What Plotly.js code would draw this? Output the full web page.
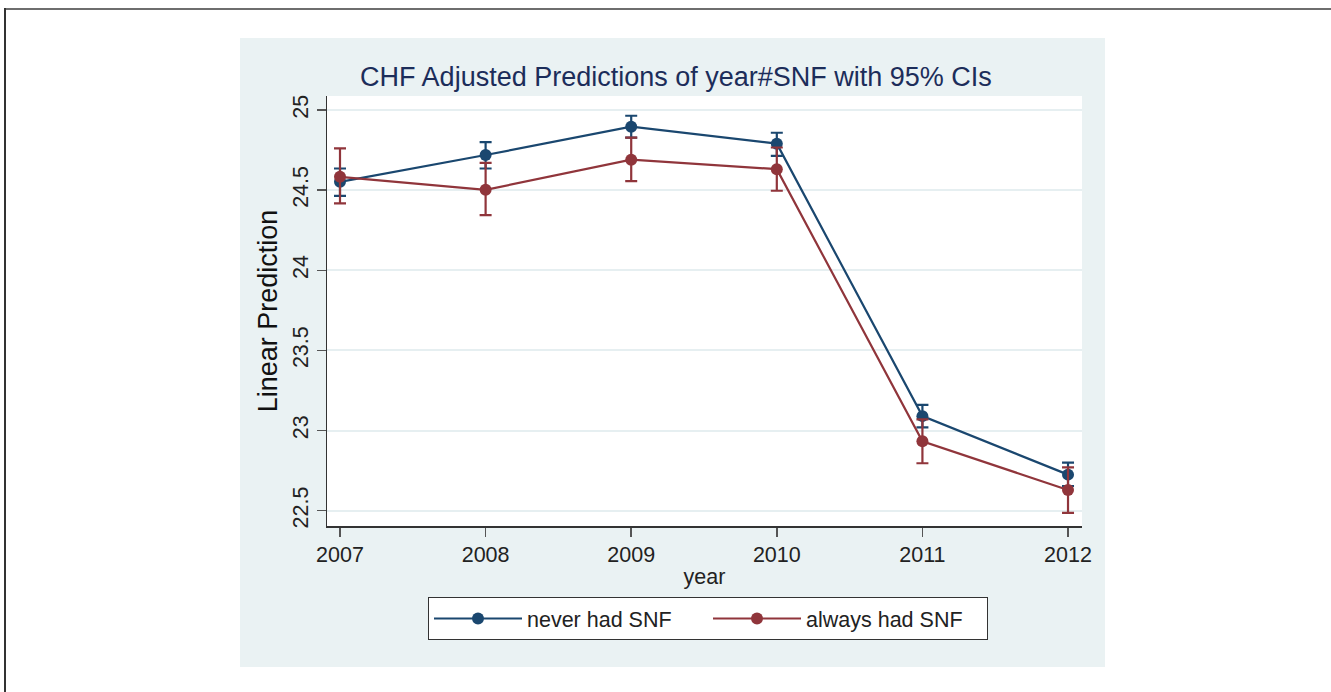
<!DOCTYPE html>
<html>
<head>
<meta charset="utf-8">
<script src="https://cdn.plot.ly/plotly-3.0.1.min.js"></script>
<style>
  html, body { margin: 0; padding: 0; background: #ffffff; }
  #chart { width: 1331px; height: 692px; }
</style>
</head>
<body>
<div id="chart"></div>
<script>
// ---- data ----
const years = [2007, 2008, 2009, 2010, 2011, 2012];
const yearLabels = ['2007', '2008', '2009', '2010', '2011', '2012'];

const neverName = 'never had SNF';
const neverPred = [24.552, 24.719, 24.896, 24.790, 23.090, 22.725];
const neverLow  = [24.464, 24.635, 24.828, 24.714, 23.020, 22.654];
const neverHigh = [24.635, 24.800, 24.964, 24.858, 23.160, 22.800];

const alwaysName = 'always had SNF';
const alwaysPred = [24.583, 24.502, 24.690, 24.631, 22.933, 22.629];
const alwaysLow  = [24.417, 24.344, 24.556, 24.496, 22.796, 22.486];
const alwaysHigh = [24.760, 24.670, 24.827, 24.766, 23.070, 22.770];

const yTickVals = [22.5, 23, 23.5, 24, 24.5, 25];
const yTickText = ['22.5', '23', '23.5', '24', '24.5', '25'];

const chartTitle = 'CHF Adjusted Predictions of year#SNF with 95% CIs';
const xTitle = 'year';
const yTitle = 'Linear Prediction';

// ---- layout geometry (pixels) ----
const W = 1331, H = 692;
const PL = 327, PR = 1082, PT = 96, PB = 526;
const px = x => (x - PL) / (PR - PL);
const py = y => (PB - y) / (PB - PT);

const FONT = 'Liberation Sans, Arial, Helvetica, sans-serif';
const BLUE = '#1a476f';
const RED = '#90353b';

function diff(a, b) { return a.map((v, i) => v - b[i]); }

function series(name, pred, lo, hi, color) {
  return {
    type: 'scatter',
    mode: 'lines+markers',
    name: name,
    x: years,
    y: pred,
    line: { color: color, width: 2.2 },
    marker: { color: color, size: 12, symbol: 'circle' },
    error_y: {
      type: 'data',
      symmetric: false,
      array: diff(hi, pred),
      arrayminus: diff(pred, lo),
      color: color,
      thickness: 2.2,
      width: 6
    },
    hoverinfo: 'x+y+name'
  };
}

const data = [
  series(neverName, neverPred, neverLow, neverHigh, BLUE),
  series(alwaysName, alwaysPred, alwaysLow, alwaysHigh, RED)
];

const layout = {
  width: W,
  height: H,
  margin: { l: PL, r: W - PR, t: PT, b: H - PB, pad: 0 },
  paper_bgcolor: '#ffffff',
  plot_bgcolor: '#ffffff',
  font: { family: FONT, size: 21.5, color: '#222222' },
  title: {
    text: chartTitle,
    font: { family: FONT, size: 27, color: '#1c2d5a' },
    xref: 'container', x: 676 / W, xanchor: 'center',
    yref: 'container', y: 1 - 77 / H, yanchor: 'middle'
  },
  xaxis: {
    range: [2006.9107, 2012.096],
    tickvals: years,
    ticktext: yearLabels,
    showgrid: false,
    zeroline: false,
    showline: true,
    linecolor: '#333333',
    linewidth: 1.5,
    ticks: 'outside',
    ticklen: 9,
    tickwidth: 1.5,
    tickcolor: '#555555',
    tickfont: { family: FONT, size: 21.5, color: '#222222' },
    title: { text: xTitle, font: { family: FONT, size: 21.5, color: '#222222' }, standoff: 2 }
  },
  yaxis: {
    range: [22.4045, 25.0873],
    tickvals: yTickVals,
    ticktext: yTickText,
    tickangle: -90,
    showgrid: true,
    gridcolor: '#e6eff1',
    gridwidth: 2,
    zeroline: false,
    showline: true,
    linecolor: '#333333',
    linewidth: 1.5,
    ticks: 'outside',
    ticklen: 9,
    tickwidth: 1.5,
    tickcolor: '#555555',
    tickfont: { family: FONT, size: 21.5, color: '#222222' },
    title: { text: yTitle, font: { family: FONT, size: 27, color: '#111111' }, standoff: 3 }
  },
  showlegend: true,
  legend: {
    orientation: 'h',
    x: px(428), xanchor: 'left',
    y: py(597), yanchor: 'top',
    bgcolor: '#ffffff',
    bordercolor: '#333333',
    borderwidth: 1,
    font: { family: FONT, size: 21.5, color: '#222222' },
    itemwidth: 88,
    entrywidth: 176,
    entrywidthmode: 'pixels',
    traceorder: 'normal'
  },
  shapes: [
    // panel background
    { type: 'rect', xref: 'paper', yref: 'paper', layer: 'below',
      x0: px(240), x1: px(1105), y0: py(667), y1: py(38),
      fillcolor: '#eaf2f3', line: { width: 0 } },
    // white plot region
    { type: 'rect', xref: 'paper', yref: 'paper', layer: 'below',
      x0: 0, x1: 1, y0: 0, y1: 1,
      fillcolor: '#ffffff', line: { width: 0 } },
    // outer frame (top and left edges)
    { type: 'line', xref: 'paper', yref: 'paper', layer: 'above',
      x0: px(4), x1: px(1331), y0: py(9), y1: py(9),
      line: { color: '#6e6e6e', width: 2 } },
    { type: 'line', xref: 'paper', yref: 'paper', layer: 'above',
      x0: px(5), x1: px(5), y0: py(8), y1: py(692),
      line: { color: '#333333', width: 2 } }
  ]
};

Plotly.newPlot('chart', data, layout, { displayModeBar: false, staticPlot: true });
</script>
</body>
</html>
